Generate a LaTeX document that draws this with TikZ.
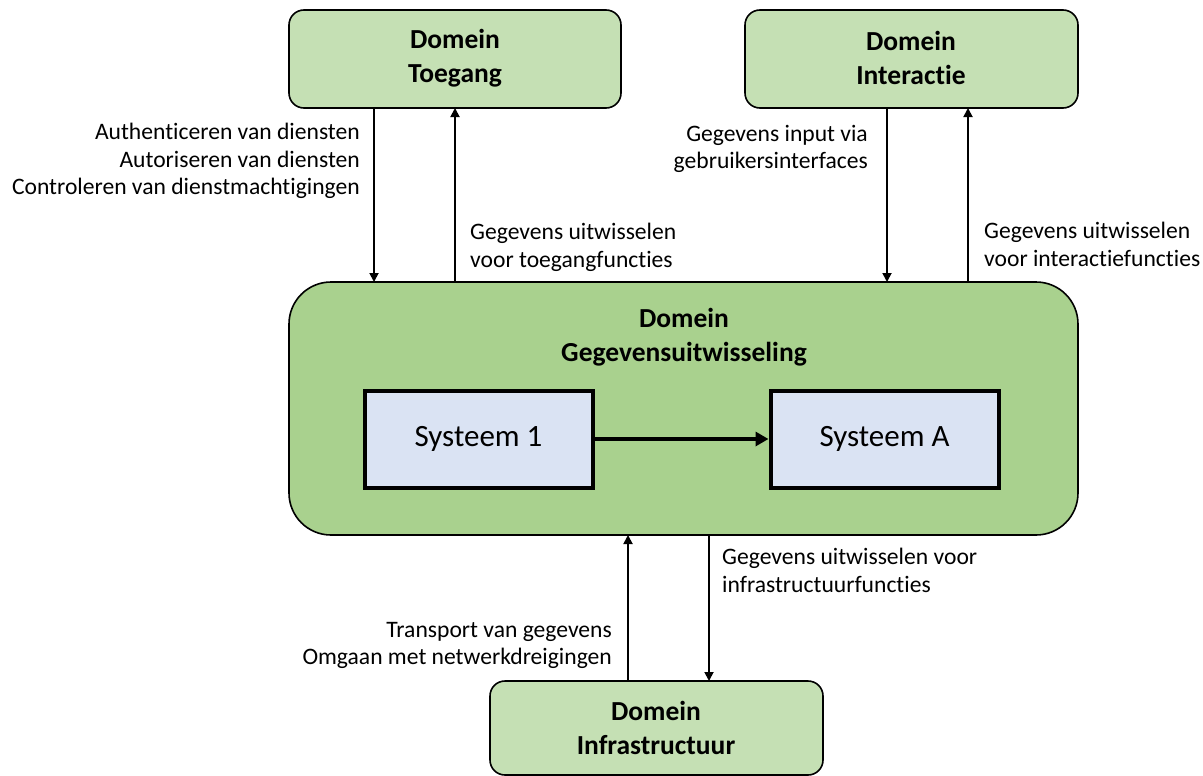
\documentclass[tikz,border=0pt]{standalone}
\usepackage{fontspec}
\setmainfont{Carlito}[Ligatures=NoCommon]
\usetikzlibrary{arrows.meta}
\definecolor{domlight}{HTML}{C5E0B4}
\definecolor{dommain}{HTML}{A9D18E}
\definecolor{sysfill}{HTML}{DAE3F3}
\tikzset{
  smallbox/.style={draw=black, line width=1.6pt, fill=domlight, rounded corners=15pt},
  mainbox/.style={draw=black, line width=1.6pt, fill=dommain, rounded corners=42pt},
  sysbox/.style={draw=black, line width=4pt, fill=sysfill, minimum width=228pt, minimum height=97pt, font=\fontsize{31}{34}\selectfont},
  title/.style={font=\fontsize{27.5}{34.5}\selectfont\bfseries, align=center},
  lbl/.style={font=\fontsize{23.6}{27.5}\selectfont, inner sep=0pt},
  flow/.style={line width=1.8pt, -{Triangle[length=9pt,width=9pt]}},
  bigflow/.style={line width=4pt, -{Triangle[length=13pt,width=14pt]}}
}
\begin{document}
\begin{tikzpicture}[x=1pt,y=-1pt]
\useasboundingbox (0,0) rectangle (1203,776);

% domain boxes
\draw[smallbox] (289,10) rectangle (621,108);
\node[title] (toeg) at (455,58) {Domein\\Toegang};

\draw[smallbox] (745,10) rectangle (1078,108);
\node[title] (inter) at (911,58) {Domein\\Interactie};

\draw[mainbox] (289,282) rectangle (1078,535);
\node[title] (gegtitle) at (684,337) {Domein\\Gegevensuitwisseling};

\draw[smallbox] (490,681) rectangle (823,775);
\node[title] (infra) at (656,728) {Domein\\Infrastructuur};

% systems
\node[sysbox] (s1) at (478.5,439) {Systeem 1};
\node[sysbox] (sa) at (884.5,439) {Systeem A};
\draw[bigflow] (s1.east) -- (sa.west);

% connector end points on the box borders
\coordinate (tA) at (374,108); \coordinate (tB) at (374,282);
\coordinate (tC) at (455,282); \coordinate (tD) at (455,108);
\coordinate (iA) at (887,108); \coordinate (iB) at (887,282);
\coordinate (iC) at (968,282); \coordinate (iD) at (968,108);
\coordinate (fA) at (628,681); \coordinate (fB) at (628,535);
\coordinate (fC) at (709,535); \coordinate (fD) at (709,681);

\draw[flow] (tA) -- (tB);
\draw[flow] (tC) -- (tD);
\draw[flow] (iA) -- (iB);
\draw[flow] (iC) -- (iD);
\draw[flow] (fA) -- (fB);
\draw[flow] (fC) -- (fD);

% labels
\node[lbl, anchor=north east, align=right] (l1) at (360,123) {Authenticeren van diensten\\Autoriseren van diensten\\Controleren van dienstmachtigingen};
\node[lbl, anchor=north west, align=left] (l2) at (470,223) {Gegevens uitwisselen\\voor toegangfuncties};
\node[lbl, anchor=north east, align=right] (l3) at (868,125) {Gegevens input via\\gebruikersinterfaces};
\node[lbl, anchor=north west, align=left] (l4) at (984,222) {Gegevens uitwisselen\\voor interactiefuncties};
\node[lbl, anchor=north west, align=left] (l5) at (722,548) {Gegevens uitwisselen voor\\infrastructuurfuncties};
\node[lbl, anchor=north east, align=right] (l6) at (612,622) {Transport van gegevens\\Omgaan met netwerkdreigingen};
\end{tikzpicture}
\end{document}
